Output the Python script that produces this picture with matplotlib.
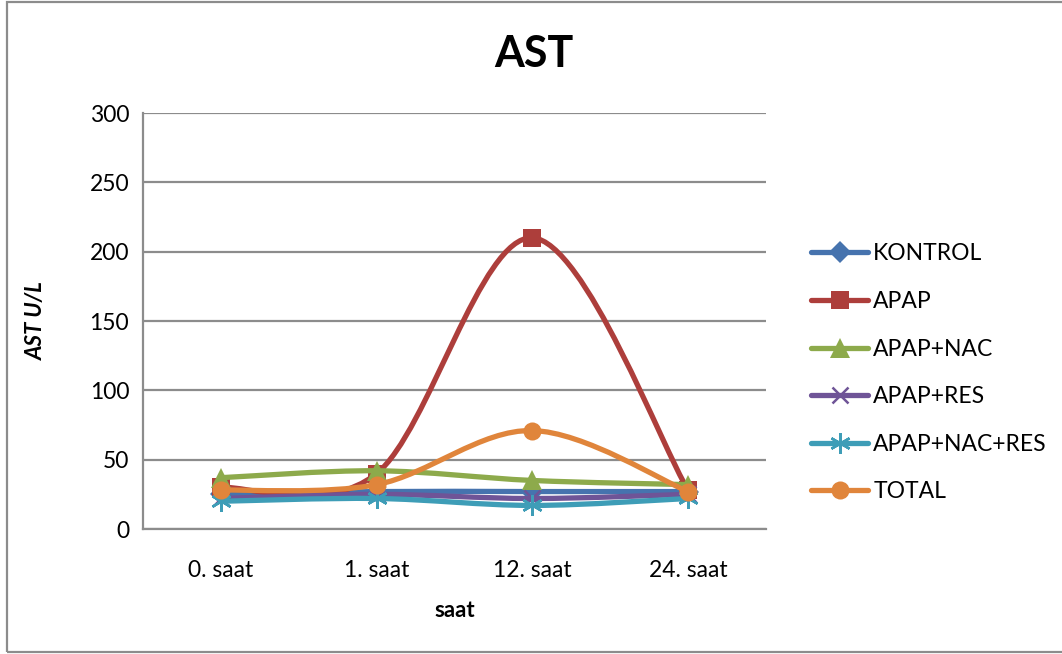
import matplotlib
matplotlib.use('Agg')
import matplotlib.pyplot as plt
from matplotlib.path import Path
from matplotlib.patches import PathPatch, Rectangle
from matplotlib.lines import Line2D
import numpy as np

plt.rcParams['font.family'] = ['Lato', 'DejaVu Sans']

# Data
categories = ['0. saat', '1. saat', '12. saat', '24. saat']
kontrol = [25, 27, 27, 27]
apap = [30, 40, 210, 28]
apap_nac = [37, 42, 35, 32]
apap_res = [22, 25, 22, 25]
apap_nac_res = [20, 22, 17, 22]
total = [28, 32, 71, 27]

series = [
    ('KONTROL', kontrol, '#4673AE', 'D', 11),
    ('APAP', apap, '#AD3E3B', 's', 13),
    ('APAP+NAC', apap_nac, '#8DAA4B', '^', 14),
    ('APAP+RES', apap_res, '#6F5497', 'x', 12),
    ('APAP+NAC+RES', apap_nac_res, '#3E9DB7', (6, 2, 0), 15),
    ('TOTAL', total, '#E0853B', 'o', 13),
]


def smooth_path(xs, ys):
    # Excel-style smoothed line: cubic Bezier segments, tension 1/6
    pts = np.column_stack([xs, ys]).astype(float)
    n = len(pts)
    verts = [pts[0]]
    codes = [Path.MOVETO]
    for i in range(n - 1):
        p0 = pts[max(i - 1, 0)]
        p1 = pts[i]
        p2 = pts[i + 1]
        p3 = pts[min(i + 2, n - 1)]
        c1 = p1 + (p2 - p0) / 6.0
        c2 = p2 - (p3 - p1) / 6.0
        verts += [c1, c2, p2]
        codes += [Path.CURVE4] * 3
    return Path(verts, codes)


fig = plt.figure(figsize=(10.62, 6.54), dpi=100)
# outer chart border
fig.patches.append(Rectangle((7 / 1062, 2 / 654), 1.2, 650 / 654, transform=fig.transFigure,
                             fill=False, edgecolor='#8c8c8c', linewidth=1.6))

ax = fig.add_axes([143 / 1062, 1 - 529 / 654, 623 / 1062, 416 / 654])
x = np.arange(len(categories))

handles = []
for i, (name, vals, color, marker, ms) in enumerate(series):
    patch = PathPatch(smooth_path(x, vals), facecolor='none', edgecolor=color,
                      linewidth=3.8, capstyle='round', joinstyle='round', zorder=3 + i)
    ax.add_patch(patch)
    mew = 1.8 if marker in ('x', (6, 2, 0)) else 0
    ax.plot(x, vals, linestyle='none', marker=marker, markersize=ms,
            color=color, markeredgecolor=color, markeredgewidth=mew, zorder=3 + i)
    handles.append(Line2D([0], [0], color=color, linewidth=3.8, solid_capstyle='round',
                          marker=marker, markersize=ms, markeredgewidth=mew,
                          markeredgecolor=color))

ax.set_xlim(-0.5, 3.5)
ax.set_ylim(0, 300)
ax.set_yticks(range(0, 301, 50))
ax.set_xticks(x)
ax.set_xticklabels(categories)
ax.tick_params(length=0, labelsize=16.5, pad=10)
ax.tick_params(axis='x', pad=22)
ax.grid(axis='y', color='#8c8c8c', linewidth=1.6)
ax.set_axisbelow(True)
for s in ['top', 'right']:
    ax.spines[s].set_visible(False)
for s in ['left', 'bottom']:
    ax.spines[s].set_color('#8c8c8c')
    ax.spines[s].set_linewidth(1.6)

ax.set_xlabel('saat', fontsize=16, fontweight='bold', labelpad=14)
ax.set_ylabel('AST U/L', fontsize=16, fontweight='bold', fontstyle='italic', labelpad=31)
fig.text(534 / 1062, 1 - 54 / 654, 'AST', fontsize=31, fontweight='bold', ha='center', va='center')

fig.legend(handles, [s[0] for s in series], loc='upper left',
           bbox_to_anchor=(800 / 1062, 1 - 232 / 654), frameon=False, fontsize=16.5,
           handlelength=2.45, handletextpad=0.25, labelspacing=1.16, borderpad=0)

fig.savefig('out.png', dpi=100)
